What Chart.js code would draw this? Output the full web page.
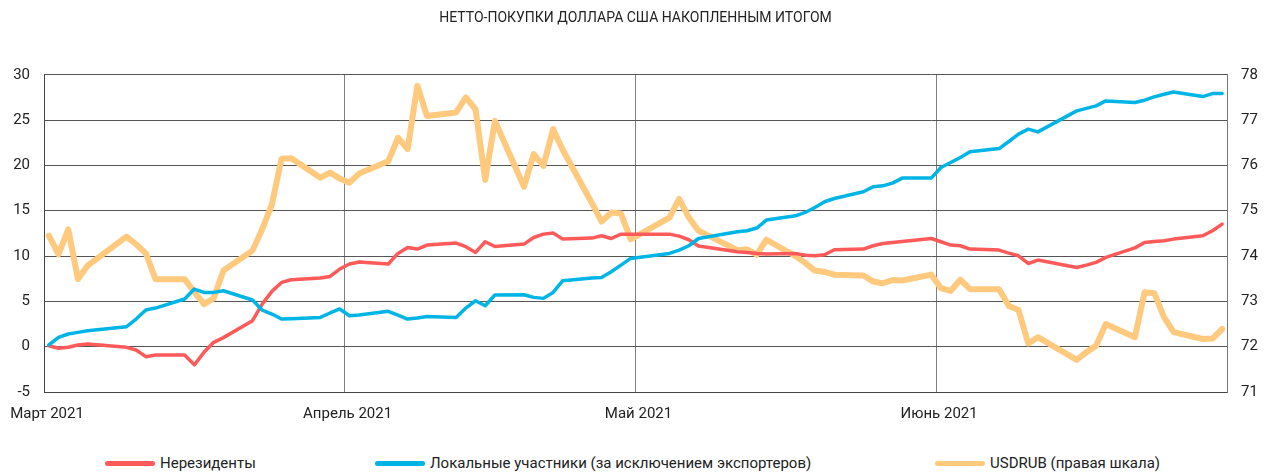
<!DOCTYPE html>
<html lang="ru">
<head>
<meta charset="utf-8">
<title>Нетто-покупки доллара США накопленным итогом</title>
<script src="https://cdn.jsdelivr.net/npm/chart.js@4.4.1/dist/chart.umd.min.js"></script>
<style>
  body { margin: 0; background: #fff; }
  #wrap { position: relative; width: 1271px; height: 476px; font-family: Roboto, "Noto Sans", sans-serif; color: #222; }
  #box { position: absolute; left: 0; top: 0; width: 1271px; height: 445px; }
  .item { position: absolute; top: 452px; height: 22px; display: flex; align-items: center; font-size: 15px; white-space: nowrap; }
  .swatch { width: 50px; height: 5px; border-radius: 3px; margin-right: 5px; }
</style>
</head>
<body>
<div id="wrap">
  <div id="box"><canvas id="chart"></canvas></div>
  <div id="legend"></div>
</div>
<script>
// Торговые дни
const dates = [
  "2021-03-01", "2021-03-02", "2021-03-03", "2021-03-04", "2021-03-05",
  "2021-03-09", "2021-03-10", "2021-03-11", "2021-03-12",
  "2021-03-15", "2021-03-16", "2021-03-17", "2021-03-18", "2021-03-19",
  "2021-03-22", "2021-03-23", "2021-03-24", "2021-03-25", "2021-03-26",
  "2021-03-29", "2021-03-30", "2021-03-31",
  "2021-04-01", "2021-04-02",
  "2021-04-05", "2021-04-06", "2021-04-07", "2021-04-08", "2021-04-09",
  "2021-04-12", "2021-04-13", "2021-04-14", "2021-04-15", "2021-04-16",
  "2021-04-19", "2021-04-20", "2021-04-21", "2021-04-22", "2021-04-23",
  "2021-04-26", "2021-04-27", "2021-04-28", "2021-04-29", "2021-04-30",
  "2021-05-04", "2021-05-05", "2021-05-06", "2021-05-07",
  "2021-05-11", "2021-05-12", "2021-05-13", "2021-05-14",
  "2021-05-17", "2021-05-18", "2021-05-19", "2021-05-20", "2021-05-21",
  "2021-05-24", "2021-05-25", "2021-05-26", "2021-05-27", "2021-05-28",
  "2021-05-31",
  "2021-06-01", "2021-06-02", "2021-06-03", "2021-06-04",
  "2021-06-07", "2021-06-08", "2021-06-09", "2021-06-10", "2021-06-11",
  "2021-06-15", "2021-06-16", "2021-06-17", "2021-06-18",
  "2021-06-21", "2021-06-22", "2021-06-23", "2021-06-24", "2021-06-25",
  "2021-06-28", "2021-06-29", "2021-06-30",
];

// Нерезиденты, млрд долл.
const nonResidents = [
  0.1, -0.18, -0.07, 0.19, 0.3,
  -0.07, -0.37, -1.1, -0.92,
  -0.92, -2.0, -0.62, 0.48, 1.0,
  2.87, 4.7, 6.1, 7.09, 7.39,
  7.57, 7.75, 8.57,
  9.12, 9.34,
  9.12, 10.29, 10.95, 10.77, 11.21,
  11.43, 11.03, 10.4, 11.58, 11.06,
  11.32, 12.05, 12.42, 12.54, 11.87,
  11.98, 12.24, 11.94, 12.42, 12.42,
  12.42, 12.2, 11.8, 11.1,
  10.47, 10.4, 10.29, 10.22,
  10.29, 10.1, 10.03, 10.14, 10.69,
  10.77, 11.14, 11.39, 11.5, 11.61,
  11.94,
  11.58, 11.21, 11.14, 10.77,
  10.66, 10.33, 10.03, 9.18, 9.56,
  8.74, 9.0, 9.3, 9.85,
  10.9, 11.5, 11.61, 11.69, 11.87,
  12.24, 12.79, 13.53,
];

// Локальные участники (без экспортеров)
const locals = [
  0.19, 1.03, 1.4, 1.58, 1.76,
  2.2, 3.05, 4.04, 4.26,
  5.26, 6.36, 5.99, 5.99, 6.17,
  5.15, 4.04, 3.6, 3.05, 3.09,
  3.23, 3.72, 4.16,
  3.42, 3.49,
  3.9, 3.49, 3.05, 3.16, 3.34,
  3.23, 4.26, 5.07, 4.52, 5.7,
  5.73, 5.44, 5.33, 5.99, 7.28,
  7.57, 7.64, 8.27, 9.0, 9.74,
  10.29, 10.66, 11.14, 11.94,
  12.68, 12.79, 13.09, 13.97,
  14.44, 14.81, 15.36, 15.99, 16.35,
  17.09, 17.64, 17.75, 18.05, 18.6,
  18.6,
  19.77, 20.32, 20.87, 21.5,
  21.86, 22.64, 23.45, 24.0, 23.7,
  26.02, 26.3, 26.57, 27.12,
  26.94, 27.2, 27.56, 27.86, 28.1,
  27.6, 27.93, 27.93,
];

// Курс USDRUB (правая шкала)
const usdRub = [
  74.45, 74.04, 74.59, 73.49, 73.79,
  74.43, 74.26, 74.06, 73.49,
  73.49, 73.21, 72.94, 73.07, 73.68,
  74.12, 74.59, 75.14, 76.15, 76.16,
  75.73, 75.84, 75.71,
  75.62, 75.82,
  76.09, 76.61, 76.36, 77.76, 77.09,
  77.17, 77.5, 77.24, 75.68, 76.98,
  75.53, 76.25, 75.99, 76.8, 76.34,
  75.17, 74.76, 74.96, 74.94, 74.37,
  74.85, 75.26, 74.85, 74.56,
  74.13, 74.15, 74.03, 74.36,
  74.0, 73.85, 73.68, 73.65, 73.59,
  73.57, 73.44, 73.4, 73.47, 73.46,
  73.59,
  73.29, 73.23, 73.48, 73.27,
  73.27, 72.9, 72.81, 72.07, 72.21,
  71.71, 71.88, 72.02, 72.5,
  72.21, 73.2, 73.18, 72.65, 72.32,
  72.17, 72.18, 72.39,
];

// Подписи оси X
const monthStarts = ["2021-03-01", "2021-04-01", "2021-05-01", "2021-06-01"];
const monthLabels = ["Март 2021", "Апрель 2021", "Май 2021", "Июнь 2021"];
const axisEnd = "2021-07-01";

const DAY = 86400000;
const origin = Date.parse(monthStarts[0]);
function dayOffset(s) {
  return (Date.parse(s) - origin) / DAY;
}
const tickDays = monthStarts.map(dayOffset).concat([dayOffset(axisEnd)]);

// точка ставится в середину дня
function points(values) {
  return values.map((v, i) => ({ x: dayOffset(dates[i]) + 0.5, y: v }));
}

const font = { family: "Roboto, 'Noto Sans', sans-serif", size: 15 };
const textColor = "#222";

const ctx = document.getElementById("chart").getContext("2d");
const chart = new Chart(ctx, {
  type: "line",
  data: {
    datasets: [
      {
        label: "Нерезиденты",
        data: points(nonResidents),
        borderColor: "#ff5a5a",
        backgroundColor: "#ff5a5a",
        borderWidth: 3.5,
        yAxisID: "y",
        order: 2,
      },
      {
        label: "Локальные участники (за исключением экспортеров)",
        data: points(locals),
        borderColor: "#00b5e6",
        backgroundColor: "#00b5e6",
        borderWidth: 3.5,
        yAxisID: "y",
        order: 1,
      },
      {
        label: "USDRUB (правая шкала)",
        data: points(usdRub),
        borderColor: "#ffc97e",
        backgroundColor: "#ffc97e",
        borderWidth: 6,
        yAxisID: "y2",
        order: 3,
      },
    ],
  },
  options: {
    responsive: true,
    maintainAspectRatio: false,
    animation: false,
    elements: {
      point: { radius: 0 },
      line: { tension: 0, borderJoinStyle: "round", borderCapStyle: "round" },
    },
    layout: { padding: 0 },
    plugins: {
      legend: { display: false },
      tooltip: { enabled: false },
      title: {
        display: true,
        text: "НЕТТО-ПОКУПКИ ДОЛЛАРА США НАКОПЛЕННЫМ ИТОГОМ",
        color: textColor,
        font: { family: font.family, size: 14, weight: "normal" },
        padding: { top: 10, bottom: 48 },
      },
    },
    scales: {
      x: {
        type: "linear",
        min: 0,
        max: tickDays[tickDays.length - 1],
        afterBuildTicks: (scale) => {
          scale.ticks = tickDays.map((v) => ({ value: v }));
        },
        afterFit: (scale) => {
          scale.height = 53;
        },
        // невидимые засечки вместо отступа подписей
        grid: { color: "#808080", drawTicks: true, tickLength: 13, tickColor: "rgba(0,0,0,0)" },
        border: { color: "#444" },
        ticks: {
          padding: 0,
          labelOffset: 3,
          autoSkip: false,
          maxRotation: 0,
          color: textColor,
          font: font,
          callback: (v, i) => monthLabels[i] || "",
        },
      },
      y: {
        position: "left",
        min: -5,
        max: 30,
        afterFit: (scale) => {
          scale.width = 44;
        },
        grid: { color: "#555", drawTicks: false },
        border: { color: "#444" },
        ticks: { stepSize: 5, padding: 14, color: textColor, font: font },
      },
      y2: {
        position: "right",
        min: 71,
        max: 78,
        afterFit: (scale) => {
          scale.width = 44;
        },
        grid: { display: false, drawTicks: false },
        border: { color: "#777" },
        ticks: { stepSize: 1, padding: 14, color: textColor, font: font },
      },
    },
  },
});

// Легенда снизу
const legendLefts = [105, 375, 935];
const legend = document.getElementById("legend");
chart.data.datasets.forEach((ds, i) => {
  const item = document.createElement("div");
  item.className = "item";
  item.style.left = legendLefts[i] + "px";
  const swatch = document.createElement("span");
  swatch.className = "swatch";
  swatch.style.background = ds.borderColor;
  const text = document.createElement("span");
  text.textContent = ds.label;
  item.appendChild(swatch);
  item.appendChild(text);
  legend.appendChild(item);
});
</script>
</body>
</html>
